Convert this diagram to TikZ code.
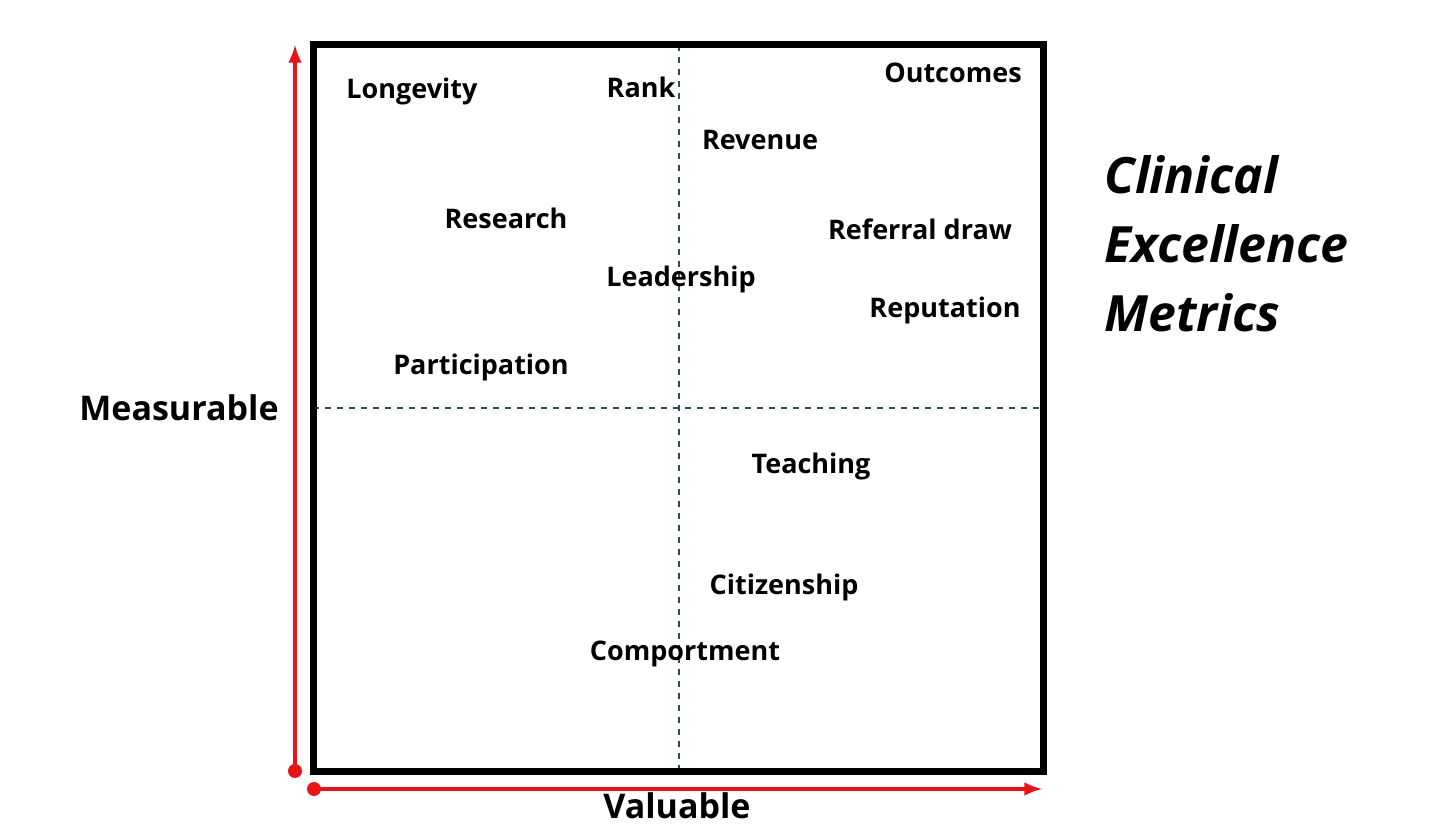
\documentclass[tikz,border=0pt]{standalone}
\usepackage{fontspec}
\setmainfont{Open Sans}
\usepackage{tikz}
\definecolor{dashteal}{RGB}{40,80,95}
\definecolor{axisred}{RGB}{235,20,20}

\begin{document}
\begin{tikzpicture}[x=0.5pt, y=-0.5pt,
    metric/.style={font=\bfseries\fontsize{13.5}{16}\selectfont},
    axislabel/.style={font=\bfseries\fontsize{17}{20}\selectfont}]
    \useasboundingbox (0,0) rectangle (1432,839);

    % quadrant dividers
    \draw[dashteal, dashed, line width=0.8pt] (679,45) -- (679,772);
    \draw[dashteal, dashed, line width=0.8pt] (313,408) -- (1043,408);

    % frame
    \draw[line width=3.5pt] (313,45) rectangle (1043,772);

    % axes
    \coordinate (ybase) at (295,771);
    \coordinate (ytop) at (295,45);
    \coordinate (xbase) at (314,789);
    \coordinate (xend) at (1042,789);
    \draw[axisred, line width=2pt, -latex] (ybase) -- (ytop);
    \draw[axisred, line width=2pt, -latex] (xbase) -- (xend);
    \fill[axisred] (ybase) circle (7);
    \fill[axisred] (xbase) circle (7);

    \node[axislabel] (measurable) at (179,408) {Measurable};
    \node[axislabel] (valuable) at (677,806) {Valuable};

    % metrics
    \node[metric] (longevity) at (412,91) {Longevity};
    \node[metric] (rank) at (641,87) {Rank};
    \node[metric] (outcomes) at (953,73) {Outcomes};
    \node[metric] (revenue) at (760,140) {Revenue};
    \node[metric] (research) at (506,218) {Research};
    \node[metric] (referral) at (920,229) {Referral draw};
    \node[metric] (leadership) at (681,279) {Leadership};
    \node[metric] (reputation) at (945,310) {Reputation};
    \node[metric] (participation) at (481,367) {Participation};
    \node[metric] (teaching) at (811,466) {Teaching};
    \node[metric] (citizenship) at (784,587) {Citizenship};
    \node[metric] (comportment) at (685,654) {Comportment};

    % title
    \node[anchor=north west, align=left, inner sep=0pt,
          font=\bfseries\itshape\fontsize{25}{34.5}\selectfont]
      (title) at (1104,155) {Clinical\\Excellence\\Metrics};
\end{tikzpicture}
\end{document}
